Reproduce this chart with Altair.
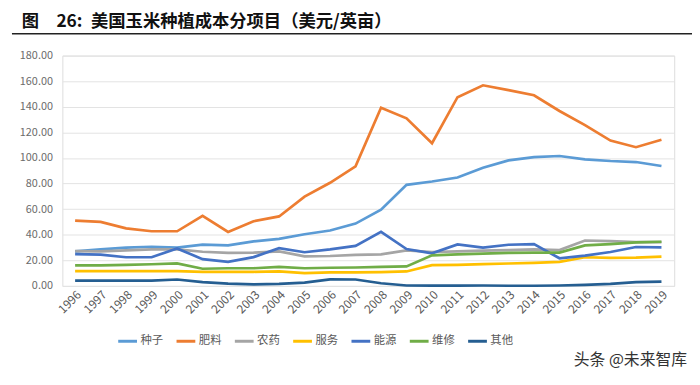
import altair as alt
import pandas as pd

years = [str(y) for y in range(1996, 2020)]
series_names = ["种子", "肥料", "农药", "服务", "能源", "维修", "其他"]
colors = ["#5B9BD5", "#ED7D31", "#A5A5A5", "#FFC000", "#4472C4", "#70AD47", "#255E91"]

seed = [27.0, 28.6, 29.9, 30.6, 29.9, 32.2, 31.7, 34.8, 36.8, 40.4, 43.3, 48.7,
        59.5, 79.0, 81.6, 84.7, 92.4, 98.1, 100.7, 101.5, 98.9, 97.6, 96.8, 93.7]
fert = [51.0, 50.0, 45.0, 42.7, 42.7, 54.8, 42.2, 50.5, 54.3, 69.8, 80.6, 93.5,
        139.3, 131.0, 111.5, 147.5, 156.8, 153.0, 149.0, 136.7, 125.7, 113.6, 108.4, 114.3]
pest = [27.2, 27.0, 27.8, 28.6, 28.6, 26.7, 25.8, 26.0, 27.0, 23.1, 23.4, 24.2,
        24.7, 27.8, 26.5, 27.0, 27.6, 28.0, 28.6, 28.0, 35.5, 35.0, 34.2, 34.2]
serv = [11.6, 11.6, 11.6, 11.6, 11.6, 11.0, 11.0, 11.0, 11.4, 10.0, 10.6, 10.6,
        10.8, 11.3, 16.2, 16.5, 17.0, 17.5, 18.0, 18.8, 22.4, 21.9, 22.1, 22.9]
energy = [24.8, 24.4, 22.4, 22.4, 29.3, 20.9, 18.8, 22.5, 29.5, 26.3, 28.5, 31.3,
          42.2, 28.8, 25.5, 32.4, 29.9, 32.2, 32.7, 21.6, 23.7, 26.5, 30.4, 30.1]
repair = [16.0, 16.0, 16.4, 16.9, 17.6, 13.4, 13.8, 13.8, 14.9, 13.8, 14.2, 14.4,
          14.9, 15.2, 23.9, 24.7, 25.2, 25.8, 26.0, 26.0, 31.7, 32.7, 34.0, 34.5]
other = [4.1, 4.1, 4.1, 4.1, 5.0, 3.0, 1.8, 1.2, 1.6, 2.6, 5.1, 5.0,
         2.1, 0.3, 0.2, 0.2, 0.3, 0.1, 0.1, 0.3, 0.8, 1.6, 3.0, 3.4]

title_text = "图\u2002\u200226:\u2002美国玉米种植成本分项目（美元/英亩）"
watermark = "头条 @未来智库"

all_series = [seed, fert, pest, serv, energy, repair, other]
rows = []
for name, vals in zip(series_names, all_series):
    for yr, v in zip(years, vals):
        rows.append({"year": yr, "series": name, "value": v})
df = pd.DataFrame(rows)

FONT = "Noto Sans CJK SC"

lines = alt.Chart(df).mark_line(strokeWidth=2.7).encode(
    x=alt.X("year:O", sort=years, scale=alt.Scale(type="point", padding=0.5),
            axis=alt.Axis(title=None, labelAngle=-45, labelFontSize=12,
                          labelColor="#595959", labelFont=FONT, ticks=False,
                          domain=False, labelPadding=3)),
    y=alt.Y("value:Q", scale=alt.Scale(domain=[0, 180]),
            axis=alt.Axis(title=None, values=list(range(0, 181, 20)), format=".2f",
                          labelFontSize=11, labelColor="#6b6b6b", labelFont=FONT,
                          ticks=False, domain=False, gridColor="#E3E3E3",
                          labelPadding=10)),
    color=alt.Color("series:N", sort=series_names,
                    scale=alt.Scale(domain=series_names, range=colors),
                    legend=alt.Legend(title=None, orient="none", direction="horizontal",
                                      legendX=55, legendY=278, symbolType="stroke",
                                      symbolSize=361, symbolStrokeWidth=3,
                                      labelFontSize=11.5, labelColor="#595959",
                                      labelFont=FONT, columnPadding=7, labelOffset=2)),
)

title_mark = alt.Chart(pd.DataFrame({"t": [title_text]})).mark_text(
    align="left", baseline="middle", fontSize=17.5, fontWeight="bold", font=FONT,
    color="#111111").encode(x=alt.value(-41), y=alt.value(-34), text="t:N")

underline = alt.Chart(pd.DataFrame({"a": [0]})).mark_rule(
    color="#222222", strokeWidth=1.5).encode(
    x=alt.value(-51), x2=alt.value(637), y=alt.value(-22))

wm = alt.Chart(pd.DataFrame({"t": [watermark]})).mark_text(
    align="right", baseline="middle", fontSize=16, font=FONT,
    color="#333333").encode(x=alt.value(632), y=alt.value(308), text="t:N")

chart = alt.layer(lines, title_mark, underline, wm).properties(
    width=619, height=233,
    autosize=alt.AutoSizeParams(type="none"),
    padding={"left": 55, "top": 46, "right": 18, "bottom": 90},
).configure_view(stroke=None).configure(background="white")

chart.save("out.html", embed_options={"renderer": "svg", "actions": False})
